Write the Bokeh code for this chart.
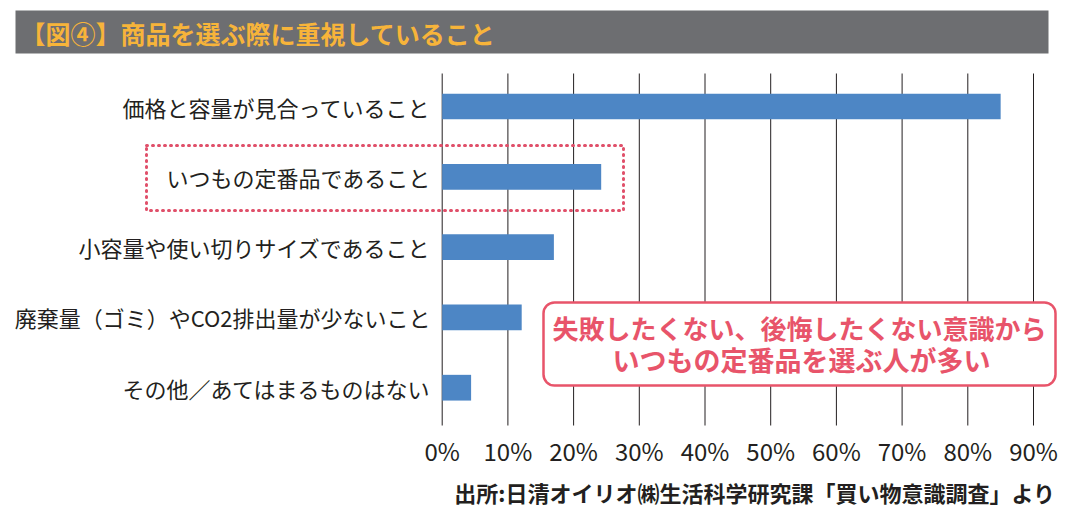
from bokeh.plotting import figure
from bokeh.models import Range1d, ColumnDataSource
from bokeh.core.properties import value
from bokeh.embed import file_html
from bokeh.resources import INLINE

# ---- data ----
categories = [
    "価格と容量が見合っていること",
    "いつもの定番品であること",
    "小容量や使い切りサイズであること",
    "廃棄量（ゴミ）やCO2排出量が少ないこと",
    "その他／あてはまるものはない",
]
values = [85.0, 24.2, 17.0, 12.1, 4.4]
ticks = [0, 10, 20, 30, 40, 50, 60, 70, 80, 90]
tick_labels = [f"{t}%" for t in ticks]
title_text = "【図④】商品を選ぶ際に重視していること"
callout_lines = ["失敗したくない、後悔したくない意識から", "いつもの定番品を選ぶ人が多い"]
source_text = "出所:日清オイリオ㈱生活科学研究課「買い物意識調査」より"

# ---- layout (pixel geometry -> data space) ----
W, H = 1065, 514
X0, XS = 441.7, 6.57      # pixel of 0%, pixels per 1%
Y0, YS = 106.0, 70.3      # pixel of first category centre, pixels per category

def px(x):
    return (x - X0) / XS

def py(y):
    return (y - Y0) / YS

FONT = value("Noto Sans CJK JP")
DARK = "#231f20"
PINK = "#e8546a"

p = figure(width=W, height=H, output_backend="svg", toolbar_location=None,
           x_range=Range1d(px(0), px(W)), y_range=Range1d(py(H), py(0)),
           x_axis_type=None, y_axis_type=None, min_border=0,
           outline_line_color=None, background_fill_color="white",
           border_fill_color="white")
p.xgrid.visible = False
p.ygrid.visible = False

idx = list(range(len(categories)))

# grid lines
p.segment(x0=ticks, x1=ticks, y0=[py(73)] * len(ticks), y1=[py(425)] * len(ticks),
          line_color=DARK, line_width=1)

# bars
src = ColumnDataSource(dict(y=idx, v=values, cat=categories))
p.hbar(y="y", right="v", left=0, height=0.366, source=src,
       fill_color="#4d86c5", line_color=None)

# category labels
p.text(x=[px(430)] * len(idx), y=idx, text=categories, text_align="right",
       text_baseline="middle", text_font=FONT, text_font_size="22px",
       text_color=DARK)

# tick labels
p.text(x=ticks, y=[py(450)] * len(ticks), text=tick_labels, text_align="center",
       text_baseline="middle", text_font=FONT, text_font_size="24px",
       text_color=DARK)

# dotted highlight box around 2nd category
p.quad(left=px(146), right=px(623), top=py(145), bottom=py(210),
       fill_color=None, line_color="#e0506a", line_width=3,
       line_dash="1 5", line_cap="round")

# callout box
p.quad(left=px(543), right=px(1055), top=py(302), bottom=py(385),
       fill_color="white", line_color=PINK, line_width=2.5, border_radius=11)
p.text(x=[px(799)], y=[py(327)], text=[callout_lines[0]], text_align="center",
       text_baseline="middle", text_font=FONT, text_font_size="26px",
       text_font_style="bold", text_color=PINK)
p.text(x=[px(801)], y=[py(359)], text=[callout_lines[1]], text_align="center",
       text_baseline="middle", text_font=FONT, text_font_size="27px",
       text_font_style="bold", text_color=PINK)

# title bar
p.quad(left=px(15), right=px(1048), top=py(10), bottom=py(53),
       fill_color="#6d6e71", line_color=None)
p.text(x=[px(20)], y=[py(32)], text=[title_text], text_align="left",
       text_baseline="middle", text_font=FONT, text_font_size="25px",
       text_font_style="bold", text_color="#f7b43a")

# source note
p.text(x=[px(1055)], y=[py(491)], text=[source_text], text_align="right",
       text_baseline="middle", text_font=FONT, text_font_size="22px",
       text_font_style="bold", text_color=DARK)

open("out.html", "w").write(file_html(p, INLINE))
